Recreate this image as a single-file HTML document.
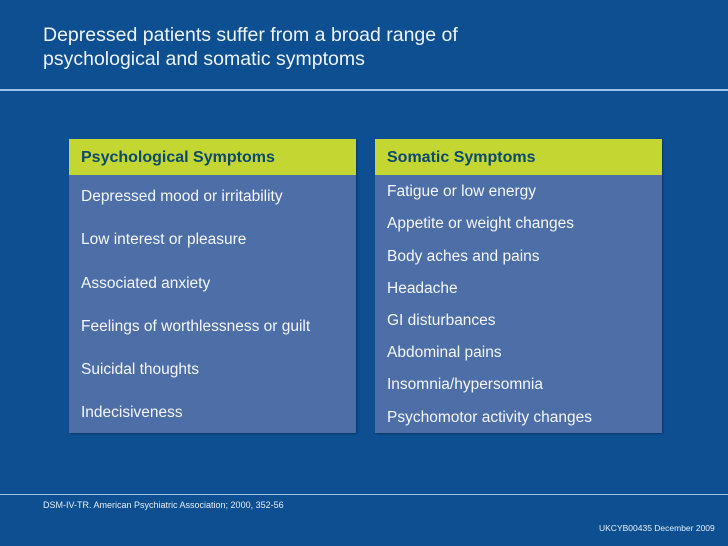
<!DOCTYPE html>
<html><head><meta charset="utf-8"><style>
body{margin:0;width:728px;height:546px;background:#0d4f91;font-family:"Liberation Sans",sans-serif;position:relative;overflow:hidden;color:#fff}
.abs{position:absolute}
.title{left:43px;top:23px;font-size:19.5px;line-height:24px;color:#eef3fa}
.rule{left:0;width:728px;height:2px;background:#9cc3e8}
.box{top:139px;width:287px;height:294px;background:#4d6ea6;box-shadow:1px 1px 2px rgba(0,0,0,.3)}
.hdr{position:absolute;left:0;top:0;width:100%;height:36px;background:#c3d631;color:#0b4a6e;font-weight:bold;font-size:16px;line-height:38px;text-indent:12px}
.item{position:absolute;left:12px;font-size:15.5px;transform:translateY(-50%);white-space:nowrap;color:#f4f6fb}
.small{font-size:9px;color:#e6edf6}
</style></head><body>
<div class="abs title">Depressed patients suffer from a broad range of<br>psychological and somatic symptoms</div>
<div class="abs rule" style="top:89px"></div>
<div class="abs box" style="left:69px">
<div class="hdr">Psychological Symptoms</div>
<div class="item" style="top:58px">Depressed mood or irritability</div>
<div class="item" style="top:101px">Low interest or pleasure</div>
<div class="item" style="top:145px">Associated anxiety</div>
<div class="item" style="top:188px">Feelings of worthlessness or guilt</div>
<div class="item" style="top:231px">Suicidal thoughts</div>
<div class="item" style="top:274px">Indecisiveness</div>
</div>
<div class="abs box" style="left:375px">
<div class="hdr">Somatic Symptoms</div>
<div class="item" style="top:53px">Fatigue or low energy</div>
<div class="item" style="top:85px">Appetite or weight changes</div>
<div class="item" style="top:118px">Body aches and pains</div>
<div class="item" style="top:150px">Headache</div>
<div class="item" style="top:182px">GI disturbances</div>
<div class="item" style="top:214px">Abdominal pains</div>
<div class="item" style="top:246px">Insomnia/hypersomnia</div>
<div class="item" style="top:279px">Psychomotor activity changes</div>
</div>
<div class="abs rule" style="top:494px;height:1px"></div>
<div class="abs small" style="left:43px;top:500px">DSM-IV-TR. American Psychiatric Association; 2000, 352-56</div>
<div class="abs small" style="left:599px;top:523px;font-size:8.5px">UKCYB00435 December 2009</div>
</body></html>
